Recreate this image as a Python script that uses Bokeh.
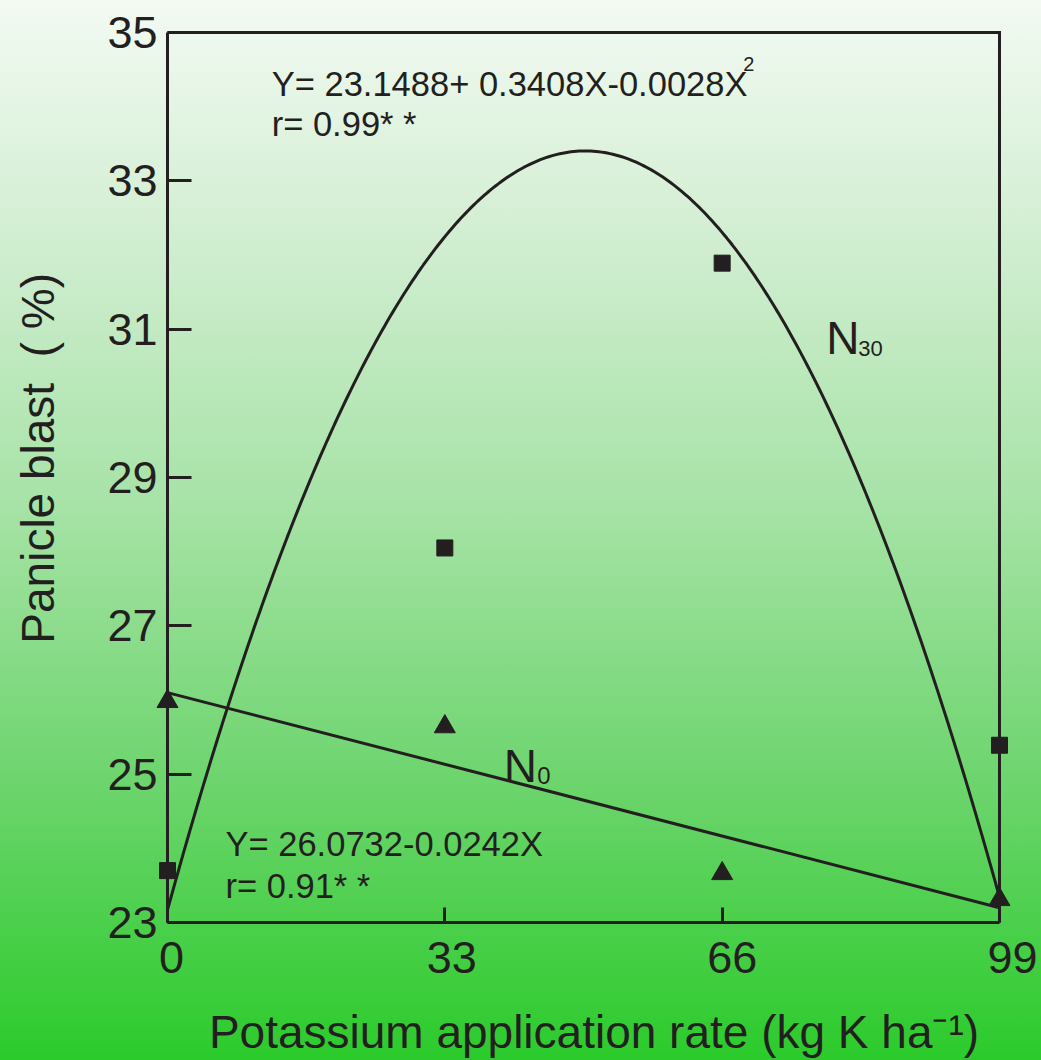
import numpy as np
from bokeh.plotting import figure
from bokeh.models import Range1d, FixedTicker, Label, LinearAxis
from bokeh.embed import file_html
from bokeh.resources import INLINE

# ---- data ----
k_rate = [0, 33, 66, 99]
n30_blast = [23.70, 28.05, 31.89, 25.39]
n0_blast = [25.98, 25.64, 23.66, 23.31]
x_ticks = [0, 33, 66, 99]
y_ticks = [23, 25, 27, 29, 31, 33, 35]
# coefficients of the fitted curves as drawn
n30_curve_coef = [23.17, 0.4117, -0.004141]
n0_line_coef = [26.10, -0.0293]

INK = "#231f20"
FONT = "Liberation Sans"
XPAD_R = 2.5  # extra room right of the box for the shifted "99" label

p = figure(width=1041, height=1060, output_backend="svg", toolbar_location=None,
           x_range=Range1d(x_ticks[0], x_ticks[-1] + XPAD_R),
           y_range=Range1d(y_ticks[0], y_ticks[-1]),
           x_axis_location=None, y_axis_location=None,
           min_border_left=167, min_border_right=21,
           min_border_top=32, min_border_bottom=135)
p.extra_x_ranges = {"lab": Range1d(-0.471, 99.94)}
p.styles = {"background": "linear-gradient(to bottom, #f3faf3 0%, #d2eed2 22%, #a8e3a8 47%, #6ad46a 75%, #2bcb2b 100%)"}
p.background_fill_color = None
p.border_fill_color = None
p.outline_line_color = None
p.xgrid.visible = False
p.ygrid.visible = False

def style_axis(ax):
    ax.axis_line_color = INK
    ax.axis_line_width = 3
    ax.major_tick_line_color = INK
    ax.major_tick_line_width = 3
    ax.major_tick_out = 0
    ax.minor_tick_line_color = None
    ax.major_label_text_font = FONT
    ax.major_label_text_font_size = "45px"
    ax.major_label_text_color = INK
    ax.axis_label_text_font = FONT
    ax.axis_label_text_font_size = "46px"
    ax.axis_label_text_color = INK
    ax.axis_label_text_font_style = "normal"

yax = LinearAxis(ticker=FixedTicker(ticks=y_ticks))
style_axis(yax)
yax.major_tick_in = 24
yax.major_label_standoff = 10
yax.axis_label = "\u00a0\u00a0\u00a0Panicle blast\u00a0\u00a0(\u00a0%)"
yax.axis_label_standoff = 40
p.add_layout(yax, "left")

# x axis line and inward ticks (drawn as minor ticks, no labels)
xax = LinearAxis(ticker=FixedTicker(ticks=[], minor_ticks=x_ticks),
                 bounds=(x_ticks[0], x_ticks[-1]))
style_axis(xax)
xax.minor_tick_line_color = INK
xax.minor_tick_line_width = 3
xax.minor_tick_in = 15
xax.minor_tick_out = 0
xax.major_label_standoff = 0
p.add_layout(xax, "below")

# x tick labels, set slightly right of the ticks as in the original
xlab = LinearAxis(ticker=FixedTicker(ticks=x_ticks), x_range_name="lab")
style_axis(xlab)
xlab.axis_line_color = None
xlab.major_tick_line_color = None
xlab.major_tick_in = 0
xlab.major_label_standoff = 19
xlab.axis_label = "Potassium application rate (kg K ha\u207b\u00b9)"
xlab.axis_label_standoff = 30
p.add_layout(xlab, "below")

# top and right sides of the box
p.line([x_ticks[0], x_ticks[-1], x_ticks[-1]], [y_ticks[-1], y_ticks[-1], y_ticks[0]],
       line_color=INK, line_width=3, line_join="miter", level="overlay")

# fitted curves
xs = np.linspace(0, 99, 300)
ys = n30_curve_coef[0] + n30_curve_coef[1] * xs + n30_curve_coef[2] * xs ** 2
p.line(xs, ys, line_color=INK, line_width=3)
xl = np.array([0, 99])
p.line(xl, n0_line_coef[0] + n0_line_coef[1] * xl, line_color=INK, line_width=3)

# observations (overlay level so edge markers are not clipped)
p.scatter(k_rate, n30_blast, marker="square", size=16, color=INK, level="overlay")
p.scatter(k_rate, n0_blast, marker="triangle", size=21, color=INK, level="overlay")

def lab(x, y, t, size):
    p.add_layout(Label(x=x, y=y, text=t, text_font=FONT, text_font_size=size,
                       text_color=INK, text_baseline="alphabetic", text_align="left"))

lab(12.4, 34.30, "Y= 23.1488+ 0.3408X-0.0028X", "34.5px")
lab(68.5, 34.58, "2", "20px")
lab(12.4, 33.765, "r= 0.99* *", "34.5px")
lab(6.9, 24.06, "Y= 26.0732-0.0242X", "34.5px")
lab(6.9, 23.497, "r= 0.91* *", "34.5px")
lab(78.4, 30.88, "N", "46px")
lab(82.2, 30.745, "30", "22px")
lab(40.0, 25.107, "N", "46px")
lab(44.0, 24.987, "0", "24px")

open("out.html", "w").write(file_html(p, INLINE))
